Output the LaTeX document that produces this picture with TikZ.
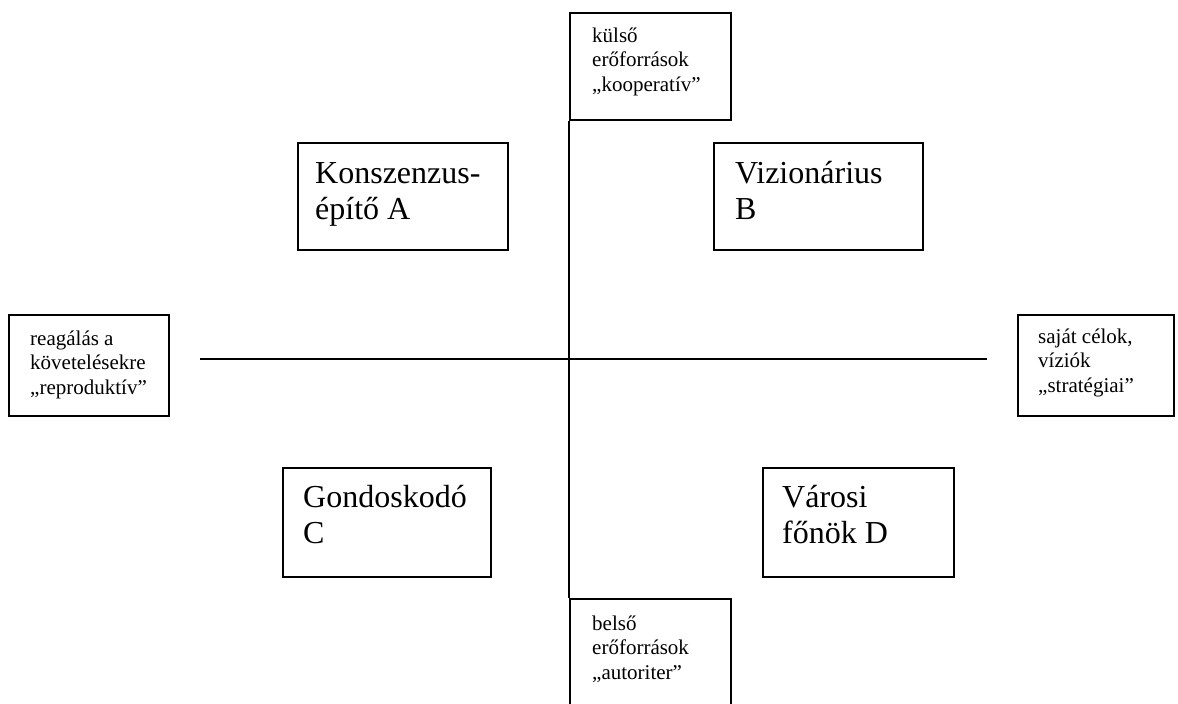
\documentclass[tikz,border=0pt]{standalone}
\usepackage{fontspec}
\setmainfont{Liberation Serif}
\begin{document}
\begin{tikzpicture}[x=1pt,y=-1pt,
  frame/.style={draw, line width=1.6pt, inner sep=0pt, anchor=north west},
  small/.style={anchor=base west, inner sep=0pt, font=\fontsize{21}{24.5}\selectfont},
  big/.style={anchor=base west, inner sep=0pt, font=\fontsize{32}{36.5}\selectfont},
  axis/.style={line width=1.6pt}]
\useasboundingbox (0,0) rectangle (1178,704);
% frames
\node[frame, minimum width=161pt, minimum height=107pt] (top) at (569,12) {};
\node[frame, minimum width=161pt, minimum height=125pt] (bot) at (569,598) {};
\node[frame, minimum width=160pt, minimum height=101pt] (left) at (8,314) {};
\node[frame, minimum width=156pt, minimum height=101pt] (right) at (1017,314) {};
\node[frame, minimum width=210pt, minimum height=107pt] (A) at (297,142) {};
\node[frame, minimum width=209pt, minimum height=107pt] (B) at (713,142) {};
\node[frame, minimum width=208pt, minimum height=109pt] (C) at (282,467) {};
\node[frame, minimum width=191pt, minimum height=109pt] (D) at (762,467) {};
% texts
\node[small] (toptext) at (592,42) {\parbox[t]{200pt}{külső\\erőforrások\\„kooperatív”}};
\node[small] (bottext) at (592,630) {\parbox[t]{200pt}{belső\\erőforrások\\„autoriter”}};
\node[small] (lefttext) at (30,345) {\parbox[t]{200pt}{reagálás a\\követelésekre\\„reproduktív”}};
\node[small] (righttext) at (1038,343) {\parbox[t]{200pt}{saját célok,\\víziók\\„stratégiai”}};
\node[big] (Atext) at (315,183) {\parbox[t]{300pt}{Konszenzus-\\építő A}};
\node[big] (Btext) at (735,183) {\parbox[t]{300pt}{Vizionárius\\B}};
\node[big] (Ctext) at (303,507) {\parbox[t]{300pt}{Gondoskodó\\C}};
\node[big] (Dtext) at (782,507) {\parbox[t]{300pt}{Városi\\főnök D}};
% axes
\coordinate (hl) at (200,359);
\coordinate (hr) at (987,359);
\draw[axis] (top.south west) -- (bot.north west);
\draw[axis] (hl) -- (hr);
\end{tikzpicture}
\end{document}
